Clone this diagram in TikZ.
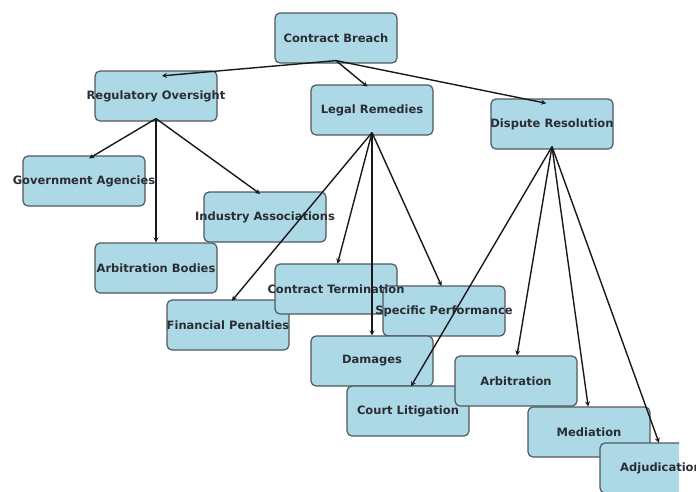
\documentclass[tikz,border=0pt]{standalone}
\usepackage{xcolor}
\usepackage{fontspec}
\setmainfont{DejaVu Sans}
\usepackage{tikz}
\usetikzlibrary{arrows.meta}

\definecolor{boxfill}{HTML}{ADD8E6}
\definecolor{boxline}{HTML}{4F5A60}
\definecolor{inkdark}{HTML}{2A2E33}

\begin{document}
\begin{tikzpicture}[x=1pt, y=-1pt,
		box/.style={draw=boxline, fill=boxfill, line width=1.2pt, rounded corners=5pt,
			minimum width=122pt, minimum height=50pt, inner sep=0pt},
		lbl/.style={text=inkdark, font=\bfseries\fontsize{11.5}{14}\selectfont, inner sep=0pt},
		edge/.style={draw=black!90, line width=1.4pt, -{Stealth[length=5pt,width=5pt]}, shorten >=6pt}]
				\useasboundingbox (0,0) rectangle (696,491);
				% boxes first, all of them, so that later boxes never hide
				% a neighbour's text; text goes on in a second pass.
				% The last box is cut at the right, its text is not.
				\begin{scope}
					\clip (0,0) rectangle (679,491);
					\foreach \n/\x/\y in {cb/336/38, ro/156/96, lr/372/110, dr/552/124,
						ga/84/181, ab/156/268, ia/265/217, fp/228/325, ct/336/289,
						sp/444/311, dm/372/361, cl/408/411, ar/516/381, md/589/432, aj/661/468}
						\node[box] (\n) at (\x,\y) {};
				\end{scope}
				\foreach \n/\t in {cb/Contract Breach, ro/Regulatory Oversight,
					lr/Legal Remedies, dr/Dispute Resolution, ga/Government Agencies,
					ab/Arbitration Bodies, ia/Industry Associations, fp/Financial Penalties,
					ct/Contract Termination, sp/Specific Performance, dm/Damages,
					cl/Court Litigation, ar/Arbitration, md/Mediation, aj/Adjudication}
					\node[lbl] (\n-t) at (\n) {\t};
				% edges sit on top of everything
				\foreach \a/\b in {cb/ro, cb/lr, cb/dr, ro/ga, ro/ab, ro/ia,
					lr/fp, lr/ct, lr/sp, lr/dm, dr/cl, dr/ar, dr/md, dr/aj}
					\draw[edge] ([yshift=3pt]\a.south) -- ([yshift=-6pt]\b.north);
			\end{tikzpicture}
\end{document}
